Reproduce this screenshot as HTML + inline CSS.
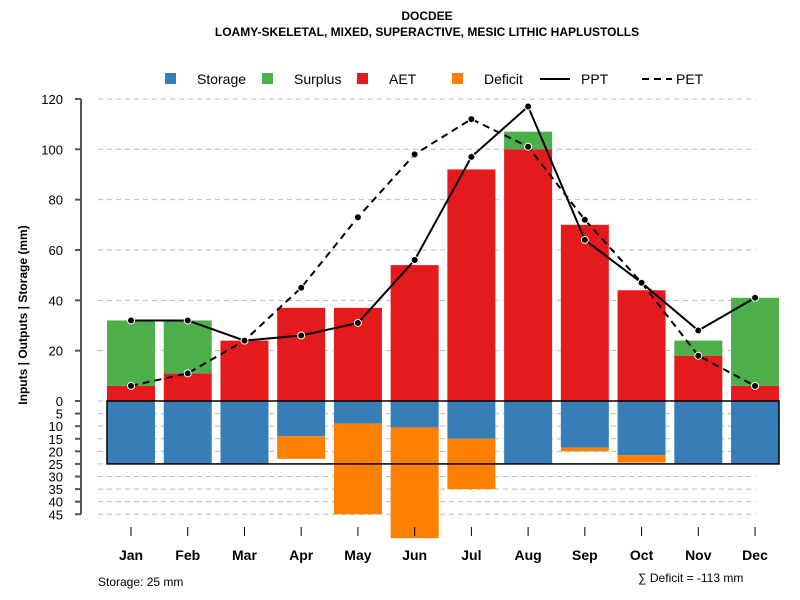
<!DOCTYPE html>
<html><head><meta charset="utf-8"><style>
body{margin:0;background:#fff}
svg{display:block;font-family:"Liberation Sans",Arial,sans-serif}
</style></head><body>
<svg id="c" width="800" height="600">
<text x="427" y="20" text-anchor="middle" font-size="12" font-weight="bold">DOCDEE</text>
<text x="427" y="36" text-anchor="middle" font-size="12" font-weight="bold">LOAMY-SKELETAL, MIXED, SUPERACTIVE, MESIC LITHIC HAPLUSTOLLS</text>
<g id="legend" font-size="14">
<rect x="165" y="73" width="11" height="11" fill="#377EB8"/>
<text x="197" y="84">Storage</text>
<rect x="262" y="73" width="11" height="11" fill="#4DAF4A"/>
<text x="294" y="84">Surplus</text>
<rect x="357" y="73" width="11" height="11" fill="#E41A1C"/>
<text x="389" y="84">AET</text>
<rect x="452" y="73" width="11" height="11" fill="#FF7F00"/>
<text x="484" y="84">Deficit</text>
<line x1="540" y1="79" x2="570" y2="79" stroke="#000" stroke-width="2"/>
<text x="581" y="84">PPT</text>
<line x1="642" y1="79" x2="672" y2="79" stroke="#000" stroke-width="2" stroke-dasharray="7,5"/>
<text x="676" y="84">PET</text>
</g>
<text transform="translate(27,315) rotate(-90)" text-anchor="middle" font-size="12" font-weight="bold">Inputs | Outputs | Storage    (mm)</text>
<text x="98" y="586" font-size="12">Storage: 25 mm</text>
<text x="638" y="582" font-size="12">∑ Deficit = -113 mm</text>
<g id="grid"></g><g id="bars"></g><g id="axes"></g><g id="lines"></g>
</svg>
<script>
const months=["Jan","Feb","Mar","Apr","May","Jun","Jul","Aug","Sep","Oct","Nov","Dec"];
const aet=[6,11,24,37,37,54,92,100,70,44,18,6];
const surplus=[26,21,0,0,0,0,0,7,0,0,6,35];
const storage=[25,25,25,14,9,10.5,15,25,18.5,21.5,25,25];
const deficit=[0,0,0,9,36,44,20,0,1.5,3,0,0];
const ppt=[32,32,24,26,31,56,97,117,64,47,28,41];
const pet=[6,11,24,45,73,98,112,101,72,47,18,6];
const posTicks=[0,20,40,60,80,100,120];
const negTicks=[5,10,15,20,25,30,35,40,45];
const NS="http://www.w3.org/2000/svg";
const y=v=>401-v*2.517;
const x=i=>131+i*56.73;
const bw=48;
function mk(t,a,p){const e=document.createElementNS(NS,t);for(const k in a)e.setAttribute(k,a[k]);p.appendChild(e);return e;}
const G=document.getElementById('grid'),B=document.getElementById('bars'),A=document.getElementById('axes'),L=document.getElementById('lines');
posTicks.concat(negTicks.map(v=>-v)).forEach(v=>{
 const g=mk('line',{x1:98,x2:756,y1:y(v),y2:y(v),stroke:'#bbb','stroke-dasharray':'5,4'},G);
 
 
 const t=mk('line',{x1:75,x2:81,y1:y(v),y2:y(v),stroke:'#555','stroke-width':2},A);
 
 
 const l=mk('text',{x:63,y:y(v)+5,'text-anchor':'end','font-size':13},A);
 l.textContent=Math.abs(v);
 
 
});
const ax=mk('line',{x1:81,x2:81,y1:y(120),y2:y(-45),stroke:'#555','stroke-width':2},A);


months.forEach((m,i)=>{
 const cx=x(i),l=cx-bw/2;
 const r1=mk('rect',{x:l,y:y(aet[i]),width:bw,height:aet[i]*2.517,fill:'#E41A1C'},B);
 
 
 if(surplus[i]>0){const r=mk('rect',{x:l,y:y(aet[i]+surplus[i]),width:bw,height:surplus[i]*2.517,fill:'#4DAF4A'},B);
 
 }
 const r2=mk('rect',{x:l,y:y(0),width:bw,height:storage[i]*2.517,fill:'#377EB8'},B);
 
 
 if(deficit[i]>0){const r=mk('rect',{x:l,y:y(-storage[i]),width:bw,height:deficit[i]*2.517,fill:'#FF7F00'},B);
 
 }
 const t=mk('line',{x1:cx,x2:cx,y1:527,y2:536,stroke:'#000'},A);
 
 
 const lb=mk('text',{x:cx,y:560,'text-anchor':'middle','font-size':14,'font-weight':'bold'},A);
 lb.textContent=m;
 
 
});
const box=mk('rect',{x:107,y:y(0),width:672,height:25*2.517,fill:'none',stroke:'#000','stroke-width':1.5},B);


function series(d,dash,name){
 const p=mk('polyline',{points:d.map((v,i)=>x(i)+','+y(v)).join(' '),fill:'none',stroke:'#000','stroke-width':2,'stroke-dasharray':dash},L);
 
 
 d.forEach((v,i)=>{const c=mk('circle',{cx:x(i),cy:y(v),r:3.5,fill:'#000',stroke:'#fff','stroke-width':1},L);
 
 });
}
series(pet,'7,5','pet');
series(ppt,'none','ppt');
</script>
</body></html>
